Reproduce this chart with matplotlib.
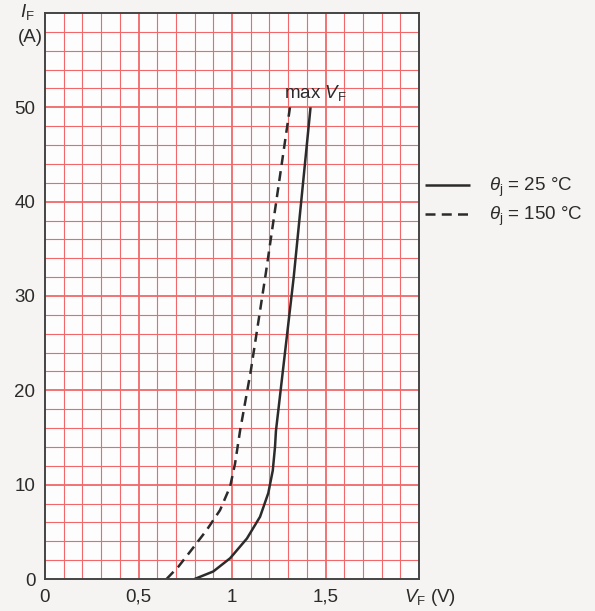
import numpy as np
import matplotlib.pyplot as plt

plt.rcParams['font.family'] = ['Liberation Sans', 'DejaVu Sans']
plt.rcParams['mathtext.fontset'] = 'custom'
plt.rcParams['mathtext.rm'] = 'Liberation Sans'
plt.rcParams['mathtext.it'] = 'Liberation Sans:italic'

# forward voltage (V) and current (A)
vf_25 = [0.80, 0.90, 0.99, 1.08, 1.15, 1.194, 1.218, 1.23, 1.235, 1.33, 1.42]
if_25 = [0.0, 0.8, 2.2, 4.3, 6.6, 9.1, 11.5, 14.0, 15.7, 32.0, 50.0]

vf_150 = [0.65, 0.713, 0.784, 0.865, 0.936, 0.99, 1.016, 1.043, 1.10, 1.18, 1.31]
if_150 = [0.0, 1.3, 3.1, 5.2, 7.3, 9.8, 12.2, 15.7, 22.0, 32.3, 50.0]

xticks = [0, 0.5, 1, 1.5]
xlabels = ["0", "0,5", "1", "1,5"]
yticks = [0, 10, 20, 30, 40, 50]

grid_col = "#f0686a"
ink = "#2b2b2b"
fs = 13.5

fig = plt.figure(figsize=(5.95, 6.11), dpi=100, facecolor="#f6f4f2")
ax = fig.add_axes([45/595, 32/611, 374/595, 566/611])
ax.set_facecolor("#fdfdfd")

ax.set_xlim(0, 2.0)
ax.set_ylim(0, 60)

# graph paper grid
for v in np.arange(0.1, 2.0, 0.1):
    lw = 1.3 if abs(v*2 - round(v*2)) < 1e-6 else 0.8
    ax.axvline(v, color=grid_col, lw=lw, zorder=1)
for i in np.arange(2, 60, 2):
    lw = 1.3 if i % 10 == 0 else 0.8
    ax.axhline(i, color=grid_col, lw=lw, zorder=1)

ax.plot(vf_25, if_25, color=ink, lw=1.8, solid_capstyle='butt', zorder=3,
        label=r"$\theta_\mathrm{j}$ = 25 °C")
ax.plot(vf_150, if_150, color=ink, lw=1.8, dashes=(4, 2.5), zorder=3,
        label=r"$\theta_\mathrm{j}$ = 150 °C")

ax.set_xticks(xticks)
ax.set_xticklabels(xlabels)
ax.set_yticks(yticks)
ax.tick_params(length=0, labelsize=fs, colors=ink, pad=7)
for s in ax.spines.values():
    s.set_color("#444444")
    s.set_linewidth(1.4)
    s.set_zorder(4)

ax.text(1.28, 51.0, r"max $V_\mathrm{F}$", fontsize=fs, color=ink, zorder=5)

fig.text(404/595, 1 - 597/611, r"$V_\mathrm{F}$ (V)", fontsize=fs, color=ink, va='center', ha='left')
fig.text(20/595, 1 - 12/611, r"$I_\mathrm{F}$", fontsize=fs, color=ink, va='center', ha='left')
fig.text(30/595, 1 - 38/611, "(A)", fontsize=fs, color=ink, va='center', ha='center')

fig.legend(loc='upper left', bbox_to_anchor=(425/595, 1 - 176/611), frameon=False,
           borderaxespad=0, borderpad=0,
           fontsize=fs, handlelength=2.4, handletextpad=1.0, labelspacing=0.32,
           labelcolor=ink)

fig.savefig("out.png", dpi=100, facecolor=fig.get_facecolor())
